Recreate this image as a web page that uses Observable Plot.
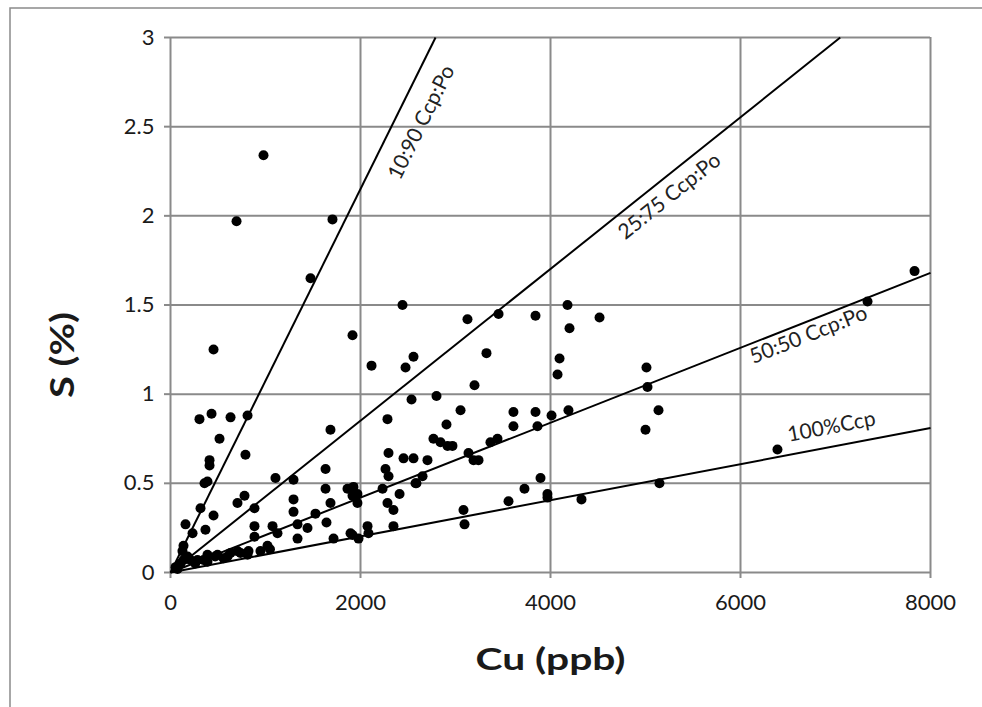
<!DOCTYPE html>
<html>
<head>
<meta charset="utf-8">
<script src="https://cdn.jsdelivr.net/npm/d3@7"></script>
<script src="https://cdn.jsdelivr.net/npm/@observablehq/plot@0.6"></script>
<style>
  html, body { margin: 0; padding: 0; background: #fff; }
  #chart svg { display: block; }
</style>
</head>
<body>
<div id="chart"></div>
<script>
// Sample values: Cu (ppb) and S (%)
const cu = [979,695,1705,1474,453,1916,2116,2442,2474,2558,3126,3453,3326,3200,3842,4179,4200,4516,4095,4074,5010,5021,5000,5137,5147,6389,7337,7832,
  305,432,632,811,516,411,411,389,358,789,453,316,158,368,232,137,705,779,884,1105,1295,1295,1295,884,1074,884,1126,1337,1337,1442,1526,1632,1632,1684,1684,1642,1716,1916,1979,2074,2084,1863,1916,1968,1968,1926,2232,2263,2295,2284,2347,2347,2295,2284,2411,2453,2558,2537,2579,
  2800,3053,2905,2768,2842,2916,2968,2705,3137,3190,3242,3368,3442,3610,3610,3842,3863,4011,4189,2653,2589,3084,3095,3558,3726,3895,3968,3968,4326,
  126,1021,947,821,705,632,600,495,389,389,284,211,137,105,74,53,737,811,558,347,1895,1047,180,260,470];
const s = [2.34,1.97,1.98,1.65,1.25,1.33,1.16,1.50,1.15,1.21,1.42,1.45,1.23,1.05,1.44,1.50,1.37,1.43,1.20,1.11,1.15,1.04,0.80,0.91,0.50,0.69,1.52,1.69,
  0.86,0.89,0.87,0.88,0.75,0.63,0.60,0.51,0.50,0.66,0.32,0.36,0.27,0.24,0.22,0.15,0.39,0.43,0.36,0.53,0.52,0.41,0.34,0.26,0.26,0.20,0.22,0.27,0.19,0.25,0.33,0.58,0.47,0.80,0.39,0.28,0.19,0.21,0.19,0.26,0.22,0.47,0.43,0.44,0.39,0.48,0.47,0.58,0.54,0.39,0.35,0.26,0.67,0.86,0.44,0.64,0.64,0.97,0.50,
  0.99,0.91,0.83,0.75,0.73,0.71,0.71,0.63,0.67,0.63,0.63,0.73,0.75,0.82,0.90,0.90,0.82,0.88,0.91,0.54,0.50,0.35,0.27,0.40,0.47,0.53,0.44,0.42,0.41,
  0.12,0.15,0.12,0.12,0.12,0.11,0.09,0.10,0.10,0.06,0.07,0.07,0.07,0.05,0.02,0.03,0.11,0.10,0.08,0.07,0.22,0.13,0.09,0.05,0.09];

// Reference mineral-ratio lines (from origin to end point)
const lineNames = ["100%Ccp", "50:50 Ccp:Po", "25:75 Ccp:Po", "10:90 Ccp:Po"];
const lineEndCu = [8000, 8000, 7050, 2790];
const lineEndS = [0.81, 1.68, 3, 3];
// Where along each line (Cu value) its label sits
const labelCu = [6958, 6716, 4958, 2347];

const xTicks = [0, 2000, 4000, 6000, 8000];
const yTicks = [0, 0.5, 1, 1.5, 2, 2.5, 3];

const points = cu.map((c, i) => ({cu: c, s: s[i]}));
const segs = lineNames.map((n, i) => ({name: n, x1: 0, y1: 0, x2: lineEndCu[i], y2: lineEndS[i]}));
const labels = lineNames.map((n, i) => ({name: n, cu: labelCu[i], s: labelCu[i] * lineEndS[i] / lineEndCu[i]}));

const W = 982, H = 707;
const mL = 170, mR = 52, mT = 37, mB = 135;
const pxPerX = (W - mL - mR) / 8000, pxPerY = (H - mT - mB) / 3;
const angle = (i) => -Math.atan((lineEndS[i] / lineEndCu[i]) * pxPerY / pxPerX) * 180 / Math.PI;
const lblOff = [{dx: 0, dy: -20}, {dx: 0, dy: 14}, {dx: 28, dy: 0}, {dx: 28, dy: 0}];

const font = "Lato, 'Open Sans', sans-serif";
const gridColor = "#8a8a8a";

const chart = Plot.plot({
  width: W, height: H,
  marginLeft: mL, marginRight: mR, marginTop: mT, marginBottom: mB,
  style: {fontFamily: font, background: "#fff", overflow: "visible"},
  x: {domain: [0, 8000]},
  y: {domain: [0, 3]},
  marks: [
    Plot.gridX(xTicks, {stroke: gridColor, strokeOpacity: 1, strokeWidth: 2}),
    Plot.gridY(yTicks, {stroke: gridColor, strokeOpacity: 1, strokeWidth: 2}),
    Plot.axisX(xTicks, {tickSize: 6, tickPadding: 16, stroke: gridColor, strokeWidth: 2, fontSize: 22, fill: "#1a1a1a", label: null, tickFormat: d => String(d)}),
    Plot.axisY(yTicks, {tickSize: 6, tickPadding: 10, stroke: gridColor, strokeWidth: 2, fontSize: 22, fill: "#1a1a1a", label: null, tickFormat: d => String(d)}),
    Plot.link(segs, {x1: "x1", y1: "y1", x2: "x2", y2: "y2", stroke: "#000", strokeWidth: 2}),
    Plot.dot(points, {x: "cu", y: "s", r: 5, fill: "#000", stroke: "none"}),
    ...labels.map((d, i) => Plot.text([d], {x: "cu", y: "s", text: "name", rotate: angle(i), dx: lblOff[i].dx, dy: lblOff[i].dy, fontSize: 21, fill: "#222", textAnchor: "middle"})),
    Plot.text(["S (%)"], {frameAnchor: "left", text: d => d, rotate: -90, textAnchor: "middle", lineAnchor: "middle", dx: -107, dy: 50, fontSize: 32, fontWeight: "bold", fill: "#1a1a1a", className: "ytitle"}),
    Plot.text(["Cu (ppb)"], {frameAnchor: "bottom", text: d => d, textAnchor: "middle", lineAnchor: "middle", dy: 88, fontSize: 31, fontWeight: "bold", fill: "#1a1a1a", className: "xtitle"})
  ]
});

const svg = d3.select(chart);
// stretch the axis titles to the reference's widths
svg.selectAll(".xtitle text").attr("textLength", 150).attr("lengthAdjust", "spacingAndGlyphs");
svg.selectAll(".ytitle text").attr("textLength", 86).attr("lengthAdjust", "spacingAndGlyphs");
// outer chart-area frame
svg.insert("rect", ":first-child")
  .attr("x", 10).attr("y", 8).attr("width", W).attr("height", H)
  .attr("fill", "none").attr("stroke", "#8a8a8a").attr("stroke-width", 1.5);

document.getElementById("chart").appendChild(chart);
</script>
</body>
</html>
